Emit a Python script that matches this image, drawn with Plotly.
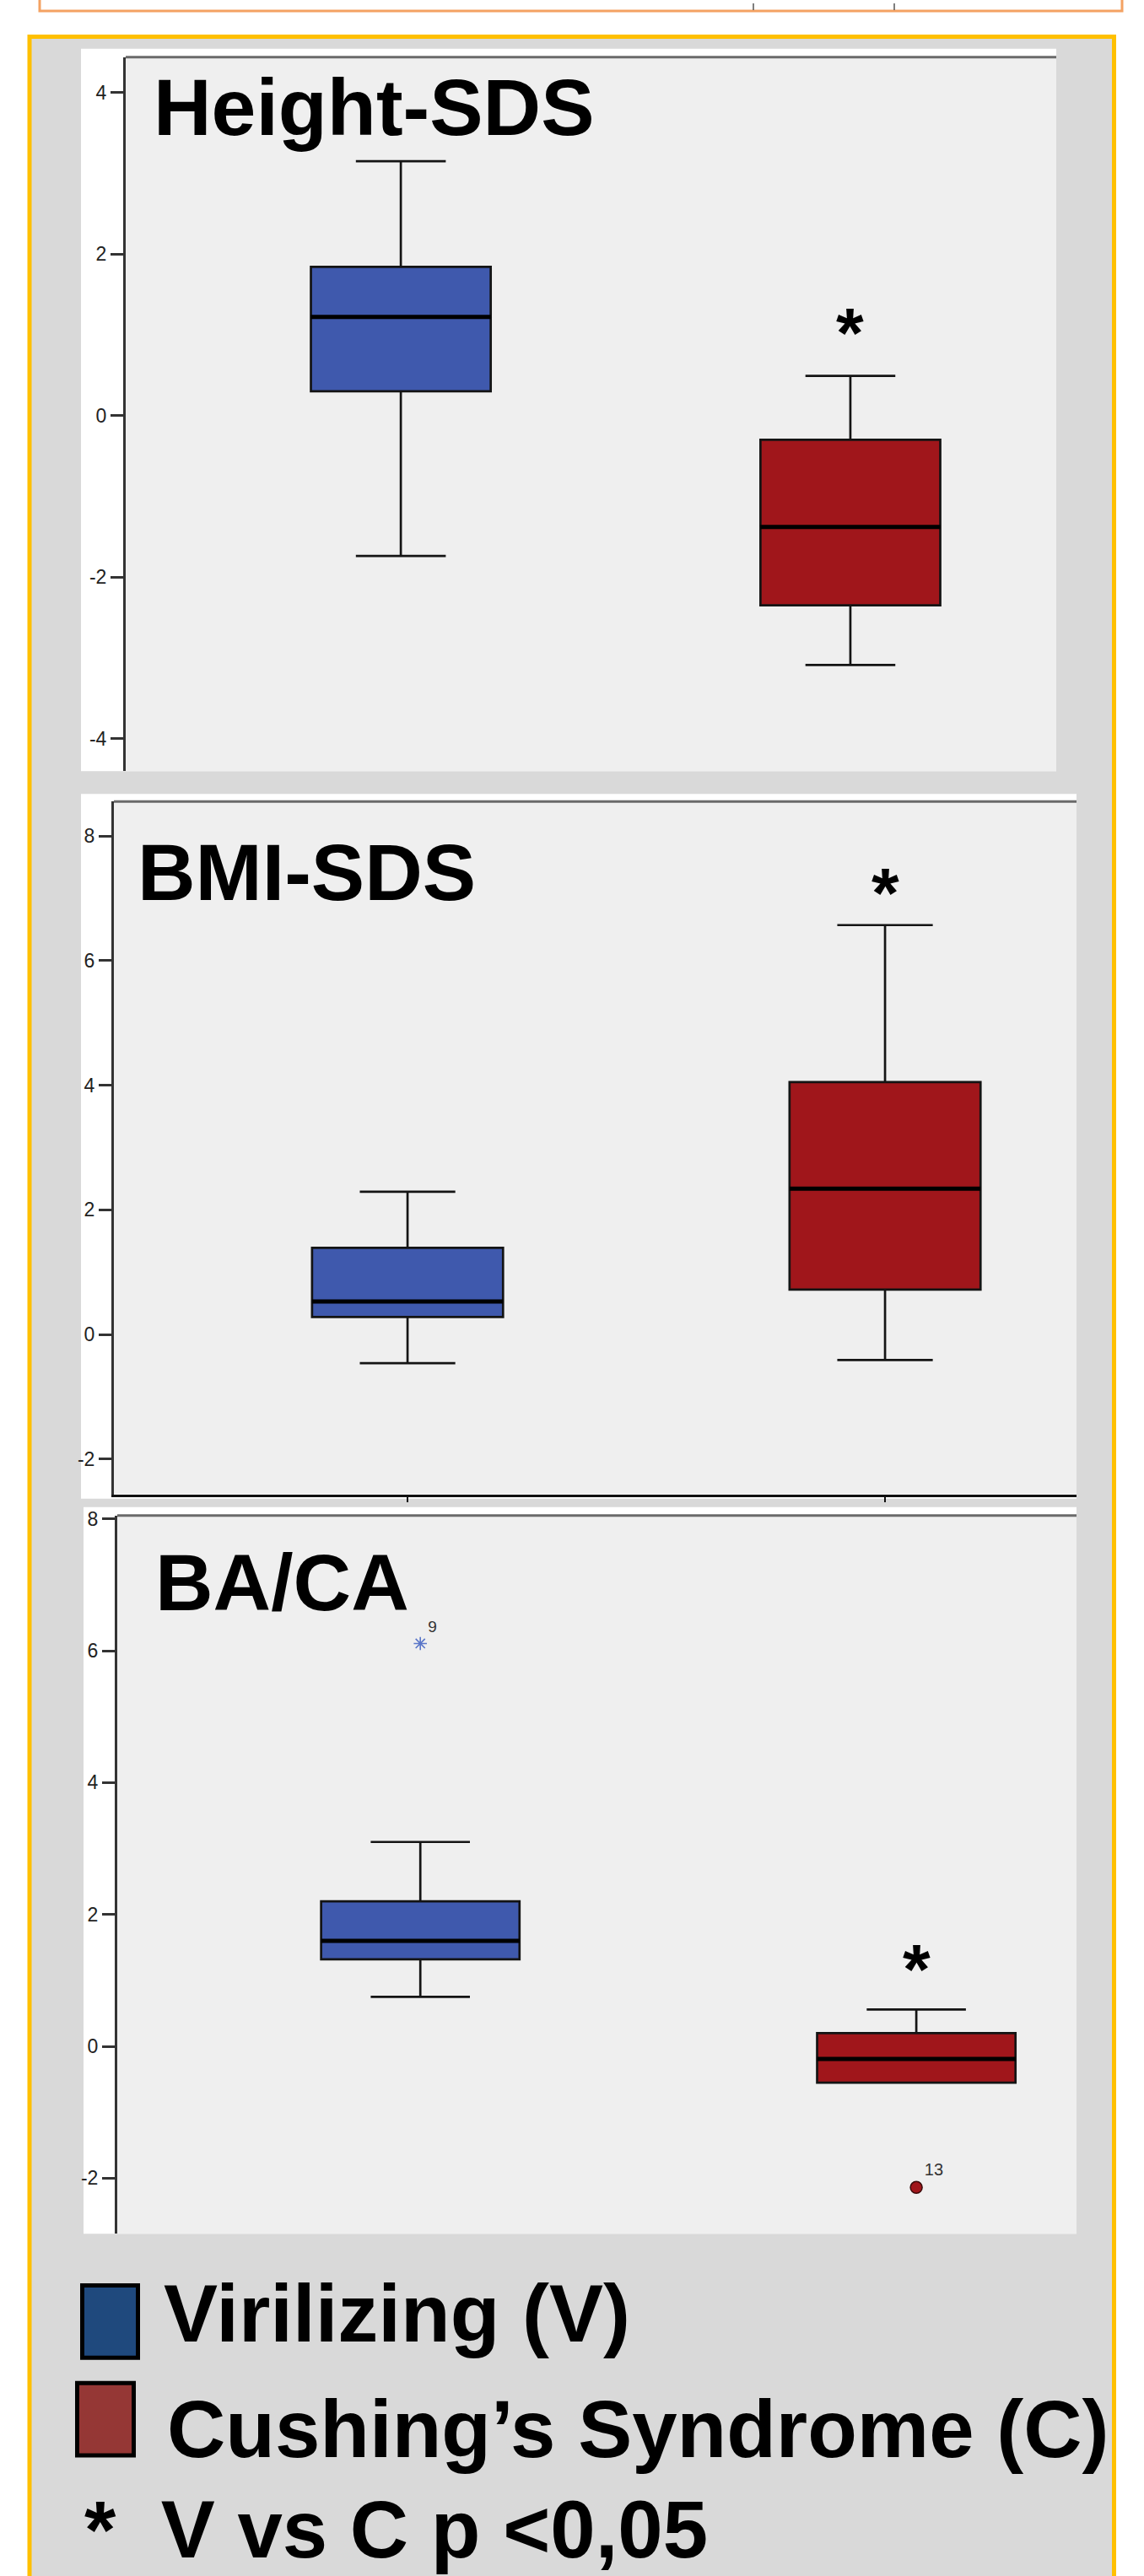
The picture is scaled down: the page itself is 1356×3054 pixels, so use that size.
import plotly.graph_objects as go

W, H = 1356, 3054

# ---------------- data ----------------
groups = ["Virilizing (V)", "Cushing’s Syndrome (C)"]
group_pos = [0, 1]
box_colors = ["#3f59ad", "#a0161b"]
legend_colors = ["#1f497d", "#953735"]

panel_titles = ["Height-SDS", "BMI-SDS", "BA/CA"]

# Height-SDS  [V, C]
height_lower = [-1.74, -3.09]
height_q1 = [0.30, -2.35]
height_median = [1.22, -1.38]
height_q3 = [1.84, -0.30]
height_upper = [3.15, 0.49]

# BMI-SDS  [V, C]
bmi_lower = [-0.46, -0.41]
bmi_q1 = [0.28, 0.72]
bmi_median = [0.53, 2.34]
bmi_q3 = [1.39, 4.05]
bmi_upper = [2.29, 6.57]

# BA/CA  [V, C]
baca_lower = [0.75, -0.55]
baca_q1 = [1.32, -0.55]
baca_median = [1.60, -0.19]
baca_q3 = [2.20, 0.20]
baca_upper = [3.10, 0.56]

# BA/CA outliers
baca_outlier_group = [0, 1]
baca_outlier_value = [6.11, -2.14]
baca_outlier_label = ["9", "13"]

# significance markers (group C, one per panel)
star_y = [1.22, 7.34, 1.41]

y_tick_vals = [[-4, -2, 0, 2, 4], [-2, 0, 2, 4, 6, 8], [-2, 0, 2, 4, 6, 8]]

legend_labels = ["Virilizing (V)", "Cushing’s Syndrome (C)"]
footnote_text = "*\u00a0\u00a0V vs C p &lt;0,05"

# ---------------- layout constants ----------------
FONT = "Liberation Sans, Arial, sans-serif"
y_ranges = [[-4.406, 4.4375], [-2.567, 8.553], [-2.842, 8.051]]
x_ranges = [[-0.612, 1.458], [-0.615, 1.401], [-0.611, 1.323]]
panel_plot = [(149, 59, 1252, 908), (135, 944, 1276, 1768), (139, 1793, 1276, 2647)]
panel_white = [(96, 49, 1252, 908), (96, 935, 1276, 1773), (99, 1783, 1276, 2647)]
title_pos = [(180, 118), (161, 1028.5), (182, 1872.5)]
BOX_W = 0.40


def px(x):
    return x / W


def py(y):
    return 1 - y / H


stats = [
    (height_lower, height_q1, height_median, height_q3, height_upper),
    (bmi_lower, bmi_q1, bmi_median, bmi_q3, bmi_upper),
    (baca_lower, baca_q1, baca_median, baca_q3, baca_upper),
]

fig = go.Figure()
shapes = []
annotations = []

# background decorations (paper coords)
shapes.append(dict(type="rect", xref="paper", yref="paper", x0=px(47), x1=px(1330),
                   y0=py(4), y1=py(-30), line=dict(color="#f4a262", width=3),
                   fillcolor="white", layer="below"))
for xv in (893, 1060):
    shapes.append(dict(type="line", xref="paper", yref="paper", x0=px(xv), x1=px(xv),
                       y0=py(3), y1=py(-5), line=dict(color="#555555", width=1.5), layer="below"))
shapes.append(dict(type="rect", xref="paper", yref="paper", x0=px(35), x1=px(1320.5),
                   y0=py(3080), y1=py(34.5), line=dict(color="#ffc000", width=5),
                   fillcolor="#d9d9d9", layer="below"))
for (x0, y0, x1, y1) in panel_white:
    shapes.append(dict(type="rect", xref="paper", yref="paper", x0=px(x0), x1=px(x1),
                       y0=py(y1), y1=py(y0), line=dict(width=0), fillcolor="white", layer="below"))

for i in range(3):
    n = "" if i == 0 else str(i + 1)
    xa, ya = "x" + n, "y" + n
    lo, q1, med, q3, up = stats[i]
    # plot background
    shapes.append(dict(type="rect", xref=xa + " domain", yref=ya + " domain", x0=0, x1=1,
                       y0=0, y1=1, line=dict(width=0), fillcolor="#efefef", layer="below"))
    for g in range(2):
        fig.add_trace(go.Box(
            x=[group_pos[g]], q1=[q1[g]], median=[med[g]], q3=[q3[g]],
            lowerfence=[lo[g]], upperfence=[up[g]],
            width=BOX_W, whiskerwidth=0.5, fillcolor=box_colors[g],
            line=dict(color="#141414", width=2.7), boxpoints=False,
            xaxis=xa, yaxis=ya, name=groups[g], showlegend=False, hoverinfo="skip"))
        # thick median line
        shapes.append(dict(type="line", xref=xa, yref=ya,
                           x0=group_pos[g] - BOX_W / 2, x1=group_pos[g] + BOX_W / 2,
                           y0=med[g], y1=med[g], line=dict(color="black", width=5), layer="above"))
    # top frame line
    shapes.append(dict(type="line", xref=xa + " domain", yref=ya + " domain", x0=0, x1=1,
                       y0=1, y1=1, line=dict(color="#6a6a6a", width=3), layer="above"))
    (x0, y0, x1, y1) = panel_plot[i]
    fig.layout["xaxis" + n] = dict(
        domain=[px(x0), px(x1)], range=x_ranges[i], anchor=ya,
        showgrid=False, zeroline=False,
        showline=(i == 1), linecolor="#111111", linewidth=3,
        ticks="outside" if i == 1 else "", ticklen=6, tickwidth=2, tickcolor="#111111",
        tickvals=group_pos, ticktext=["", ""], showticklabels=False)
    fig.layout["yaxis" + n] = dict(
        domain=[py(y1), py(y0)], range=y_ranges[i], anchor=xa,
        showgrid=False, zeroline=False, showline=True, linecolor="#333333", linewidth=3,
        ticks="outside", ticklen=15, tickwidth=2.5, tickcolor="#333333",
        tickvals=y_tick_vals[i], ticktext=[str(v) for v in y_tick_vals[i]],
        tickfont=dict(family=FONT, size=23, color="#222222"))
    # panel title
    tx, ty = title_pos[i]
    annotations.append(dict(text=panel_titles[i], xref="paper", yref="paper", x=px(tx), y=py(ty),
                            xanchor="left", yanchor="middle", showarrow=False,
                            font=dict(family=FONT, size=95, color="black", weight="bold")))
    # significance star
    annotations.append(dict(text="*", xref=xa, yref=ya, x=group_pos[1], y=star_y[i],
                            xanchor="center", yanchor="middle", yshift=-19, showarrow=False,
                            font=dict(family=FONT, size=84, color="black", weight="bold")))

# outliers in BA/CA
fig.add_trace(go.Scatter(
    x=[baca_outlier_group[0]], y=[baca_outlier_value[0]], mode="markers+text",
    text=[baca_outlier_label[0]], textposition="top right",
    textfont=dict(family=FONT, size=19, color="#333333"),
    marker=dict(symbol="asterisk-open", size=13, color="#5a76c8",
                line=dict(color="#5a76c8", width=1.6)),
    xaxis="x3", yaxis="y3", showlegend=False, hoverinfo="skip"))
fig.add_trace(go.Scatter(
    x=[baca_outlier_group[1]], y=[baca_outlier_value[1]], mode="markers+text",
    text=[baca_outlier_label[1]], textposition="top right",
    textfont=dict(family=FONT, size=20, color="#333333"),
    marker=dict(symbol="circle", size=14, color="#a0161b", line=dict(color="#3a0a0a", width=1.5)),
    xaxis="x3", yaxis="y3", showlegend=False, hoverinfo="skip"))

# legend
leg_rects = [(95, 2706, 166, 2797), (89, 2822, 161, 2913)]
leg_text = [(192, 2742), (196, 2879)]
for k in range(2):
    (x0, y0, x1, y1) = leg_rects[k]
    shapes.append(dict(type="rect", xref="paper", yref="paper", x0=px(x0 + 2.5), x1=px(x1 - 2.5),
                       y0=py(y1 - 2.5), y1=py(y0 + 2.5), line=dict(color="black", width=5),
                       fillcolor=legend_colors[k], layer="above"))
    lx, ly = leg_text[k]
    annotations.append(dict(text=legend_labels[k], xref="paper", yref="paper", x=px(lx), y=py(ly),
                            xanchor="left", yanchor="middle", showarrow=False,
                            font=dict(family=FONT, size=96, color="black", weight="bold")))
annotations.append(dict(text=footnote_text, xref="paper", yref="paper", x=px(98), y=py(2998),
                        xanchor="left", yanchor="middle", showarrow=False,
                        font=dict(family=FONT, size=96, color="black", weight="bold")))

fig.update_layout(
    width=W, height=H, margin=dict(l=0, r=0, t=0, b=0),
    paper_bgcolor="white", plot_bgcolor="rgba(0,0,0,0)",
    shapes=shapes, annotations=annotations, showlegend=False,
    font=dict(family=FONT),
)

fig.write_html("out.html", config={"displayModeBar": False},
               post_script="document.body.style.margin='0';")
